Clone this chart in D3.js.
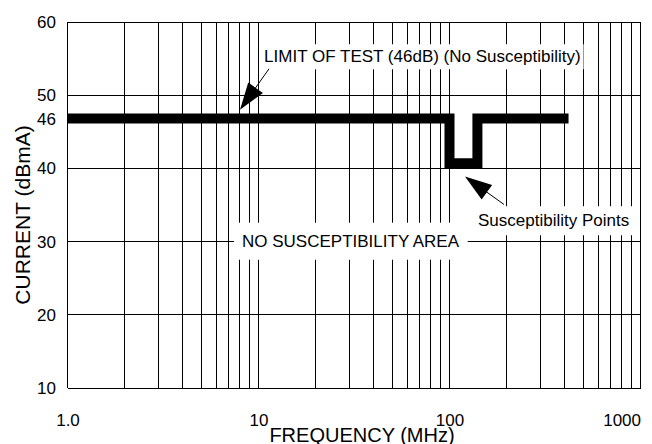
<!DOCTYPE html>
<html>
<head>
<meta charset="utf-8">
<script src="https://cdn.jsdelivr.net/npm/d3@7"></script>
<style>
  body { margin: 0; background: #fff; }
  text { font-family: Arial, "Liberation Sans", sans-serif; fill: #000; }
</style>
</head>
<body>
<svg id="chart"></svg>
<script>
// x axis: frequency in MHz, log scale
const freqTicks = [1, 10, 100, 1000];
const freqTickLabels = ["1.0", "10", "100", "1000"];
// y axis: current in dBmA
const currentTicks = [10, 20, 30, 40, 50, 60];

// limit of test trace, with the dip at the susceptibility points
const traceFreq = [1, 100, 100, 140, 140, 420];
const traceCurrent = [46.8, 46.8, 40.7, 40.7, 46.8, 46.8];
const limitLevel = 46.8;
const limitLabel = "46";

// text notes (anchored in data units, left edge / baseline)
const noteText = ["LIMIT OF TEST (46dB) (No Susceptibility)", "NO SUSCEPTIBILITY AREA", "Susceptibility Points"];
const noteFreq = [10.7, 8.2, 141];
const noteCurrent = [54.5, 29.3, 32.1];
const notePad = [[3, 3], [8, 9], [4, 5]];

// arrows: tip in data units, tail as offset in px
const arrowFreq = [8, 120.5];
const arrowCurrent = [48, 38.9];
const arrowTail = [[29, -41], [39, 28]];

const margin = { top: 22, right: 11.5, bottom: 56, left: 67.5 },
    width = 652 - margin.left - margin.right,
    height = 444 - margin.top - margin.bottom;

const root = d3.select("#chart")
    .attr("width", 652)
    .attr("height", 444);

const svg = root.append("g")
    .attr("transform", `translate(${margin.left},${margin.top})`);

const x = d3.scaleLog()
    .domain([1, 1000])
    .range([0, width]);

const y = d3.scaleLinear()
    .domain([10, 60])
    .range([height, 0]);

// grid lines
const grid = svg.append("g")
    .attr("stroke", "#000")
    .attr("stroke-width", 1)
    .attr("shape-rendering", "crispEdges");

grid.selectAll("line.v")
    .data(x.ticks())
    .enter()
    .append("line")
    .attr("class", "v")
    .attr("x1", d => x(d))
    .attr("x2", d => x(d))
    .attr("y1", 0)
    .attr("y2", height);

grid.selectAll("line.h")
    .data(currentTicks)
    .enter()
    .append("line")
    .attr("class", "h")
    .attr("x1", 0)
    .attr("x2", width)
    .attr("y1", d => y(d))
    .attr("y2", d => y(d));

// axes (labels only)
const xAxis = svg.append("g")
    .attr("transform", `translate(0,${height})`)
    .call(d3.axisBottom(x)
        .tickValues(freqTicks)
        .tickFormat((d, i) => freqTickLabels[i])
        .tickSize(0)
        .tickPadding(26));
xAxis.select(".domain").remove();
xAxis.selectAll("text")
    .style("font-size", "17px")
    .attr("text-anchor", (d, i) => i === freqTicks.length - 1 ? "end" : "middle");

const yAxis = svg.append("g")
    .call(d3.axisLeft(y)
        .tickValues(currentTicks.concat([limitLevel]))
        .tickFormat(d => d === limitLevel ? limitLabel : d)
        .tickSize(0)
        .tickPadding(11.5));
yAxis.select(".domain").remove();
yAxis.selectAll("text").style("font-size", "17px");

// notes with white boxes behind them
const notes = svg.append("g");
noteText.forEach((t, i) => {
    const g = notes.append("g");
    const box = g.append("rect").attr("fill", "#fff");
    const txt = g.append("text")
        .attr("x", x(noteFreq[i]))
        .attr("y", y(noteCurrent[i]))
        .style("font-size", "17px")
        .text(t);
    const bb = txt.node().getBBox();
    box.attr("x", bb.x - notePad[i][0])
        .attr("y", bb.y - notePad[i][1])
        .attr("width", bb.width + 2 * notePad[i][0])
        .attr("height", bb.height + 2 * notePad[i][1]);
});

// limit trace
const line = d3.line()
    .x(d => x(d[0]))
    .y(d => y(d[1]));

svg.append("path")
    .datum(d3.zip(traceFreq, traceCurrent))
    .attr("d", line)
    .attr("fill", "none")
    .attr("stroke", "#000")
    .attr("stroke-width", 10)
    .attr("stroke-linejoin", "miter")
    .attr("stroke-linecap", "butt");

// arrows
const headLen = 27, headHalf = 9;
arrowFreq.forEach((f, i) => {
    const tx = x(f), ty = y(arrowCurrent[i]);
    const [dx, dy] = arrowTail[i];
    const len = Math.hypot(dx, dy);
    const ux = dx / len, uy = dy / len;
    const bx = tx + ux * headLen, by = ty + uy * headLen;
    svg.append("line")
        .attr("x1", bx - ux * 2).attr("y1", by - uy * 2)
        .attr("x2", tx + dx).attr("y2", ty + dy)
        .attr("stroke", "#000")
        .attr("stroke-width", 1);
    svg.append("path")
        .attr("d", `M${tx},${ty}L${bx - uy * headHalf},${by + ux * headHalf}L${bx + uy * headHalf},${by - ux * headHalf}Z`)
        .attr("fill", "#000");
});

// axis titles
root.append("text")
    .attr("x", 362)
    .attr("y", 442)
    .attr("text-anchor", "middle")
    .style("font-size", "20px")
    .text("FREQUENCY (MHz)");

root.append("text")
    .attr("transform", "rotate(-90)")
    .attr("x", -215)
    .attr("y", 30)
    .attr("text-anchor", "middle")
    .style("font-size", "21px")
    .text("CURRENT (dBmA)");
</script>
</body>
</html>
